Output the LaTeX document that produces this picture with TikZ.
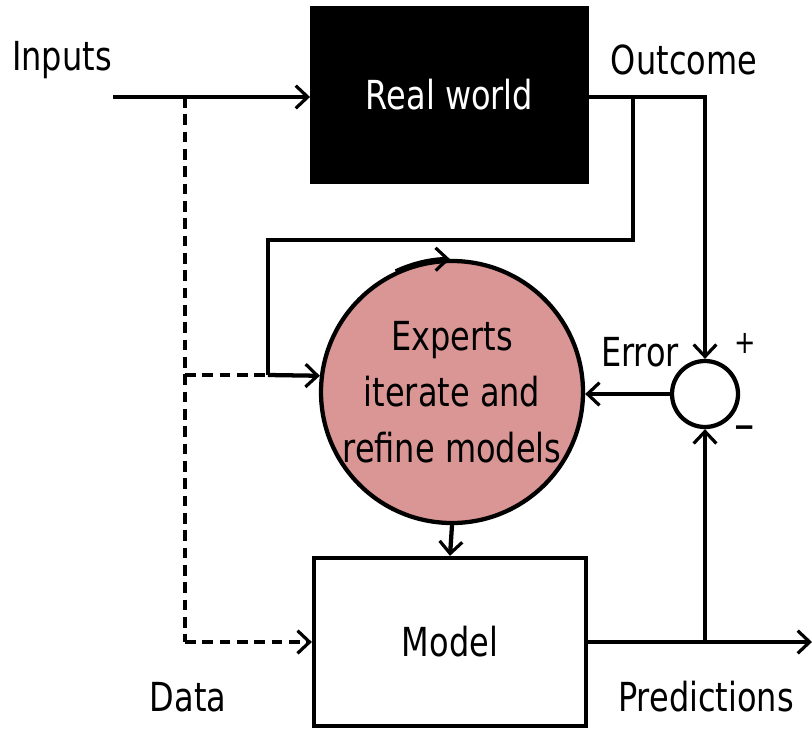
\documentclass[tikz,border=0pt]{standalone}
\usepackage{fontspec}
\setmainfont[FakeStretch=0.8]{DejaVu Sans}
\usetikzlibrary{arrows.meta}
\definecolor{expertfill}{HTML}{D99694}
\begin{document}
\begin{tikzpicture}[x=0.75pt,y=-0.75pt,
  every node/.style={font=\fontsize{30pt}{42pt}\selectfont, inner sep=0pt},
  wire/.style={line width=3.2pt, line join=miter},
  arr/.style={wire, -{Straight Barb[length=9pt,width=17pt,line width=2.4pt]}},
  dashwire/.style={wire, dash pattern=on 8pt off 5pt},
  blockbox/.style={draw, line width=3.2pt, minimum width=204pt, minimum height=126pt},
  lbl/.style={anchor=center}]
\useasboundingbox (0,0) rectangle (812,728);
% nodes
\node[blockbox, fill=black, text=white, minimum width=206pt, minimum height=130pt] (rw) at (449.5,95) {Real world};
\node[blockbox, fill=white] (model) at (450,642) {Model};
\node[circle, draw, line width=3.2pt, fill=expertfill, minimum size=196.5pt, align=center] (ex) at (452,392) {Experts\\iterate and\\refine models};
\node[circle, draw, line width=3.2pt, minimum size=49.5pt] (sum) at (705,394) {};
% labels
\node[lbl] (linputs) at (62,60) {Inputs};
\node[lbl] (loutcome) at (684,60) {Outcome};
\node[lbl] (lerror) at (640,352) {Error};
\node[lbl, font=\fontsize{24pt}{28pt}\selectfont] (lplus) at (745,343) {+};
\node[lbl, font=\fontsize{38pt}{40pt}\selectfont] (lminus) at (745,434) {–};
\node[lbl] (ldata) at (188,697) {Data};
\node[lbl] (lpred) at (706,697) {Predictions};
% coordinates
\coordinate (in) at (113,97);
\coordinate (tap) at (185,97);
\coordinate (otap) at (633,97);
\coordinate (fbA) at (633,240);
\coordinate (fbB) at (268,240);
\coordinate (fbC) at (268,375);
\coordinate (dtap) at (185,375);
\coordinate (dbot) at (185,642);
\coordinate (out) at (812,642);
\coordinate (ptap) at (705,642);
% connectors
\draw[arr] (in) -- (rw.west |- in);
\draw[arr] (rw.east |- in) -- (sum.north |- in) -- (sum.north);
\draw[wire] (otap) -- (fbA) -- (fbB) -- (fbC);
\draw[arr] (fbC) -- (ex.173);
\draw[dashwire] (tap) -- (dbot);
\draw[dashwire] (dtap) -- (fbC);
\draw[dashwire, -{Straight Barb[length=9pt,width=17pt,line width=2.4pt]}] (dbot) -- (model.west);
\draw[arr] (sum.west) -- (ex.east |- sum.west);
\draw[arr] (ex.south) -- (model.north);
\draw[wire] (model.east) -- (ptap);
\draw[arr] (ptap) -- (out);
\draw[arr] (ptap) -- (sum.south);
% iteration arrow on circle top
\draw[arr] (ex.115) arc[start angle=-115, end angle=-90.5, radius=131];
\end{tikzpicture}
\end{document}
